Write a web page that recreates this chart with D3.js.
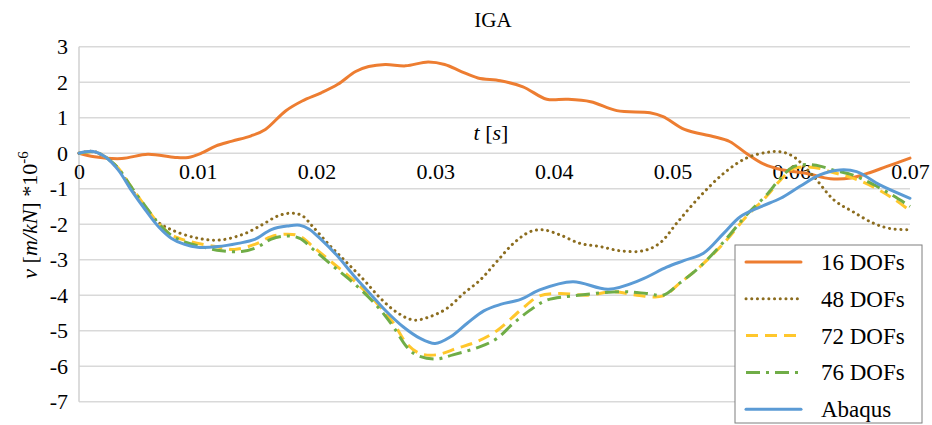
<!DOCTYPE html>
<html>
<head>
<meta charset="utf-8">
<script src="https://cdn.jsdelivr.net/npm/d3@7"></script>
<style>
    body { margin: 0; background: #fff; }
    svg text { font-family: "Liberation Serif", "DejaVu Serif", serif; fill: #000; }
</style>
</head>
<body>
<div id="chart"></div>
<script>
// IGA displacement curves, values as [t, v] pairs
const xTicks = [0, 0.01, 0.02, 0.03, 0.04, 0.05, 0.06, 0.07];
const yTicks = [3, 2, 1, 0, -1, -2, -3, -4, -5, -6, -7];

const dofs16 = [
    [0, 0], [0.0013, -0.1], [0.0036, -0.15], [0.0058, -0.03], [0.0081, -0.12], [0.0092, -0.12],
    [0.0103, 0], [0.0115, 0.2], [0.0129, 0.34], [0.0145, 0.49], [0.0157, 0.67], [0.0174, 1.19],
    [0.0188, 1.47], [0.0204, 1.70], [0.0218, 1.94], [0.0233, 2.30], [0.0244, 2.44], [0.0258, 2.50],
    [0.0275, 2.46], [0.0294, 2.57], [0.0308, 2.50], [0.0322, 2.30], [0.0336, 2.12], [0.0355, 2.04],
    [0.0374, 1.87], [0.0394, 1.52], [0.0411, 1.52], [0.0431, 1.45], [0.0453, 1.20], [0.0481, 1.14],
    [0.0492, 1.03], [0.0510, 0.67], [0.0534, 0.47], [0.0548, 0.33], [0.0562, 0.0], [0.0577, -0.31],
    [0.0591, -0.46], [0.0613, -0.57], [0.0633, -0.72], [0.0650, -0.70], [0.0664, -0.57],
    [0.0680, -0.38], [0.0700, -0.14]
];

const dofs48 = [
    [0, 0], [0.0012, 0.05], [0.0022, -0.1], [0.0033, -0.45], [0.0044, -1.0], [0.0056, -1.55],
    [0.0067, -1.95], [0.0078, -2.16], [0.0098, -2.38], [0.0117, -2.45], [0.0137, -2.30],
    [0.0154, -2.02], [0.0168, -1.76], [0.0179, -1.69], [0.0188, -1.76], [0.0197, -2.07],
    [0.0211, -2.59], [0.0225, -3.06], [0.0240, -3.57], [0.0254, -4.09], [0.0268, -4.49],
    [0.0282, -4.70], [0.0296, -4.60], [0.0310, -4.37], [0.0324, -3.95], [0.0338, -3.57],
    [0.0352, -3.05], [0.0366, -2.54], [0.0380, -2.21], [0.0391, -2.16], [0.0405, -2.30],
    [0.0422, -2.54], [0.0439, -2.63], [0.0456, -2.75], [0.0475, -2.75], [0.0489, -2.54],
    [0.0504, -1.95], [0.0523, -1.22], [0.0543, -0.57], [0.0562, -0.14], [0.0579, 0.02],
    [0.0591, 0.04], [0.0602, -0.1], [0.0619, -0.66], [0.0636, -1.32], [0.0652, -1.65],
    [0.0669, -1.97], [0.0683, -2.12], [0.0700, -2.16]
];

const dofs72 = [
    [0, 0], [0.0012, 0.04], [0.0022, -0.1], [0.0033, -0.42], [0.0044, -0.95], [0.0056, -1.5],
    [0.0067, -1.98], [0.0078, -2.3], [0.0089, -2.45], [0.0115, -2.63], [0.0131, -2.71],
    [0.0148, -2.57], [0.0162, -2.35], [0.0176, -2.28], [0.0186, -2.34], [0.0197, -2.63],
    [0.0214, -3.10], [0.0231, -3.57], [0.0251, -4.23], [0.0265, -4.79], [0.0276, -5.36],
    [0.0287, -5.64], [0.0301, -5.68], [0.0318, -5.50], [0.0335, -5.31], [0.0352, -5.0],
    [0.0372, -4.42], [0.0388, -4.02], [0.0405, -3.95], [0.0428, -4.0], [0.0450, -3.90],
    [0.0470, -4.0], [0.0492, -4.02], [0.0506, -3.66], [0.0523, -3.2], [0.0543, -2.54],
    [0.0562, -1.79], [0.0579, -1.22], [0.0591, -0.75], [0.0602, -0.43], [0.0619, -0.40],
    [0.0636, -0.55], [0.0652, -0.70], [0.0669, -0.95], [0.0686, -1.28], [0.0700, -1.62]
];

const dofs76 = [
    [0, 0], [0.0012, 0.04], [0.0022, -0.1], [0.0033, -0.42], [0.0044, -0.95], [0.0056, -1.5],
    [0.0067, -1.98], [0.0078, -2.32], [0.0089, -2.5], [0.0105, -2.65], [0.0120, -2.75],
    [0.0137, -2.77], [0.0150, -2.65], [0.0162, -2.42], [0.0176, -2.33], [0.0186, -2.4],
    [0.0197, -2.7], [0.0214, -3.18], [0.0231, -3.65], [0.0251, -4.3], [0.0265, -4.9],
    [0.0276, -5.45], [0.0284, -5.68], [0.0300, -5.80], [0.0315, -5.68], [0.0338, -5.45],
    [0.0352, -5.22], [0.0366, -4.79], [0.0380, -4.42], [0.0394, -4.14], [0.0416, -4.02],
    [0.0456, -3.90], [0.0478, -3.95], [0.0492, -4.0], [0.0506, -3.66], [0.0523, -3.2],
    [0.0543, -2.5], [0.0562, -1.75], [0.0579, -1.18], [0.0591, -0.7], [0.0602, -0.38],
    [0.0619, -0.33], [0.0636, -0.48], [0.0652, -0.62], [0.0669, -0.88], [0.0686, -1.2],
    [0.0700, -1.5]
];

const abaqus = [
    [0, 0], [0.0012, 0.05], [0.0022, -0.1], [0.0033, -0.47], [0.0044, -1.04], [0.0056, -1.6],
    [0.0067, -2.07], [0.0078, -2.4], [0.0089, -2.57], [0.0100, -2.65], [0.0117, -2.63],
    [0.0134, -2.54], [0.0148, -2.43], [0.0162, -2.15], [0.0176, -2.05], [0.0186, -2.03],
    [0.0194, -2.14], [0.0203, -2.40], [0.0217, -2.87], [0.0231, -3.43], [0.0245, -3.95],
    [0.0259, -4.46], [0.0273, -4.89], [0.0287, -5.21], [0.0300, -5.36], [0.0313, -5.17],
    [0.0327, -4.79], [0.0341, -4.44], [0.0355, -4.26], [0.0372, -4.12], [0.0388, -3.85],
    [0.0416, -3.62], [0.0446, -3.83], [0.0473, -3.57], [0.0495, -3.21], [0.0510, -3.02],
    [0.0526, -2.82], [0.0543, -2.26], [0.0557, -1.79], [0.0574, -1.51], [0.0591, -1.27],
    [0.0607, -0.94], [0.0624, -0.61], [0.0641, -0.47], [0.0655, -0.52], [0.0675, -0.9],
    [0.0700, -1.27]
];

const seriesNames = ['16 DOFs', '48 DOFs', '72 DOFs', '76 DOFs', 'Abaqus'];
const seriesData = [dofs16, dofs48, dofs72, dofs76, abaqus];
const seriesStyles = [
    { color: '#ED7D31', dash: null, cap: 'round' },
    { color: '#8C6D1F', dash: '0.1 5.6', cap: 'round' },
    { color: '#FFC72C', dash: '12 7', cap: 'butt' },
    { color: '#70AD47', dash: '14 6 3 6', cap: 'butt' },
    { color: '#5B9BD5', dash: null, cap: 'round' }
];

const serif = '"Liberation Serif", "DejaVu Serif", serif';

const width = 932;
const height = 425;
const margins = { left: 79, right: 22, top: 46.7, bottom: 23.3 };

const svg = d3.select('#chart')
    .append('svg')
    .attr('width', width)
    .attr('height', height)
    .attr('font-family', serif);

const xScale = d3.scaleLinear()
    .domain([0, 0.07])
    .range([margins.left, width - margins.right]);

const yScale = d3.scaleLinear()
    .domain([-7, 3])
    .range([height - margins.bottom, margins.top]);

// horizontal gridlines
svg.append('g')
    .selectAll('line')
    .data(yTicks)
    .enter()
    .append('line')
    .attr('x1', xScale(0))
    .attr('x2', xScale(0.07))
    .attr('y1', d => yScale(d))
    .attr('y2', d => yScale(d))
    .attr('stroke', '#d9d9d9')
    .attr('stroke-width', 1.5);

// left axis line
svg.append('line')
    .attr('x1', xScale(0))
    .attr('x2', xScale(0))
    .attr('y1', yScale(3))
    .attr('y2', yScale(-7))
    .attr('stroke', '#d0d0d0')
    .attr('stroke-width', 1.5);

const yAxis = d3.axisLeft(yScale)
    .tickValues(yTicks)
    .tickSize(0)
    .tickPadding(11)
    .tickFormat(d => String(d));

svg.append('g')
    .attr('transform', `translate(${xScale(0)}, 0)`)
    .call(yAxis)
    .attr('font-family', serif)
    .attr('font-size', 22)
    .call(g => g.select('.domain').remove())
    .selectAll('text')
    .attr('fill', '#000');

const xAxis = d3.axisBottom(xScale)
    .tickValues(xTicks)
    .tickSize(0)
    .tickPadding(10)
    .tickFormat(d => d === 0 ? '0' : d3.format('.2f')(d));

svg.append('g')
    .attr('transform', `translate(0, ${yScale(0)})`)
    .call(xAxis)
    .attr('font-family', serif)
    .attr('font-size', 22)
    .call(g => g.select('.domain').remove())
    .selectAll('text')
    .attr('fill', '#000');

// series
const line = d3.line()
    .x(d => xScale(d[0]))
    .y(d => yScale(d[1]))
    .curve(d3.curveCatmullRom.alpha(0.5));

seriesData.forEach((data, i) => {
    const st = seriesStyles[i];
    svg.append('path')
        .datum(data)
        .attr('fill', 'none')
        .attr('stroke', st.color)
        .attr('stroke-width', 3)
        .attr('stroke-linecap', st.cap)
        .attr('stroke-linejoin', 'round')
        .attr('stroke-dasharray', st.dash)
        .attr('d', line);
});

// title and axis labels
svg.append('text')
    .attr('x', 493)
    .attr('y', 27)
    .attr('text-anchor', 'middle')
    .attr('font-size', 21)
    .text('IGA');

const tLabel = svg.append('text')
    .attr('x', 491)
    .attr('y', 140)
    .attr('text-anchor', 'middle')
    .attr('font-size', 22);
tLabel.append('tspan').attr('font-style', 'italic').text('t');
tLabel.append('tspan').text(' [');
tLabel.append('tspan').attr('font-style', 'italic').text('s');
tLabel.append('tspan').text(']');

const vLabel = svg.append('text')
    .attr('transform', 'translate(37, 215) rotate(-90)')
    .attr('text-anchor', 'middle')
    .attr('font-size', 22);
vLabel.append('tspan').attr('font-style', 'italic').text('v');
vLabel.append('tspan').text(' [');
vLabel.append('tspan').attr('font-style', 'italic').text('m/kN');
vLabel.append('tspan').text('] *10');
vLabel.append('tspan').attr('dy', -9).attr('font-size', 15).text('-6');

// legend
const legend = svg.append('g')
    .attr('transform', 'translate(735, 245)');

legend.append('rect')
    .attr('x', 0)
    .attr('y', 0)
    .attr('width', 187)
    .attr('height', 178)
    .attr('fill', '#fff')
    .attr('stroke', '#7f7f7f')
    .attr('stroke-width', 1);

const rows = legend.selectAll('.legend-row')
    .data(seriesNames)
    .enter()
    .append('g')
    .classed('legend-row', true)
    .attr('transform', (d, i) => `translate(0, ${17 + i * 36.8})`);

rows.append('line')
    .attr('x1', 11)
    .attr('x2', 66)
    .attr('y1', 0)
    .attr('y2', 0)
    .attr('stroke', (d, i) => seriesStyles[i].color)
    .attr('stroke-width', 3)
    .attr('stroke-linecap', (d, i) => seriesStyles[i].cap)
    .attr('stroke-dasharray', (d, i) => seriesStyles[i].dash);

rows.append('text')
    .attr('x', 86)
    .attr('y', 8)
    .attr('font-size', 23)
    .text(d => d);
</script>
</body>
</html>
